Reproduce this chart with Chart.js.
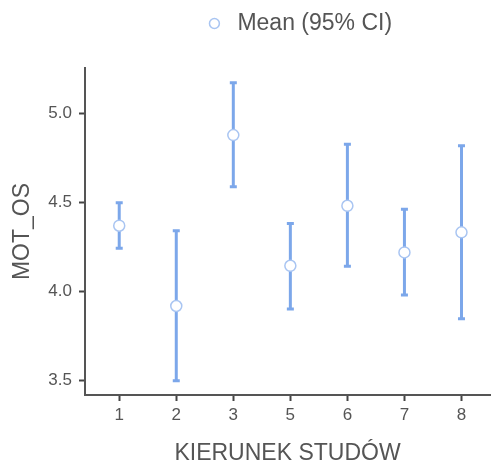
<!DOCTYPE html>
<html><head><meta charset="utf-8">
<script src="https://cdn.jsdelivr.net/npm/chart.js@4"></script>
<style>html,body{margin:0;padding:0;background:#fff}#wrap{width:491px;height:461px}</style>
</head><body><div id="wrap"><canvas id="c" width="491" height="461"></canvas></div>
<script>
const categories = ["1","2","3","5","6","7","8"];
const means = [4.367, 3.916, 4.876, 4.142, 4.479, 4.217, 4.330];
const lower = [4.240, 3.496, 4.586, 3.899, 4.139, 3.978, 3.844];
const upper = [4.496, 4.339, 5.170, 4.380, 4.824, 4.459, 4.816];
const yTicks = [3.5, 4.0, 4.5, 5.0];

const FONT = 'Liberation Sans, Arial, sans-serif';
const lineColor = '#7ca7ea';
const errorBars = {
  id: 'errorBars',
  beforeDatasetsDraw(chart) {
    const ctx = chart.ctx, xs = chart.scales.x, ys = chart.scales.y;
    ctx.save();
    ctx.strokeStyle = lineColor;
    ctx.lineWidth = 3;
    categories.forEach((c, i) => {
      const x = xs.getPixelForValue(i);
      const yl = ys.getPixelForValue(lower[i]);
      const yu = ys.getPixelForValue(upper[i]);
      ctx.beginPath();
      ctx.moveTo(x, yl); ctx.lineTo(x, yu);
      ctx.stroke();
      ctx.beginPath();
      ctx.moveTo(x - 3.5, yl); ctx.lineTo(x + 3.5, yl);
      ctx.moveTo(x - 3.5, yu); ctx.lineTo(x + 3.5, yu);
      ctx.stroke();
    });
    ctx.restore();
  }
};
const layoutTweak = {
  id: 'layoutTweak',
  afterLayout(chart) {
    const R = 490;
    const xs = chart.scales.x;
    if (xs && chart.chartArea.right < R) {
      chart.chartArea.right = R;
      chart.chartArea.width = R - chart.chartArea.left;
      xs.right = R;
      xs.width = R - xs.left;
      xs.configure();
    }
    if (chart.legend) { chart.legend.left += 13; chart.legend.right += 13; }
  }
};

new Chart(document.getElementById('c'), {
  type: 'scatter',
  data: {
    datasets: [{
      label: 'Mean (95% CI)',
      data: means.map((m, i) => ({x: i, y: m})),
      backgroundColor: '#ffffff',
      borderColor: '#a9c5f2',
      borderWidth: 1.5,
      pointRadius: 5.5,
      pointHoverRadius: 5.5
    }]
  },
  options: {
    responsive: false,
    animation: false,
    events: [],
    layout: { padding: { left: 0, right: 1, top: 0, bottom: 0 } },
    plugins: {
      tooltip: { enabled: false },
      title: { display: true, text: '', font: { size: 10, lineHeight: 1 }, padding: { top: 8, bottom: 5 } },
      legend: {
        position: 'top',
        fullSize: false,
        weight: 3000,
        labels: {
          usePointStyle: true,
          pointStyle: 'circle',
          boxWidth: 23, boxHeight: 7,
          font: { family: FONT, size: 23 },
          color: '#555555',
          padding: 12
        }
      }
    },
    scales: {
      x: {
        type: 'linear',
        min: -0.6, max: 6.5,
        afterBuildTicks(s) { s.ticks = categories.map((c, i) => ({value: i})); },
        afterFit(s) { s.height = 66; s.paddingLeft = 0; s.paddingRight = 0; },
        ticks: {
          callback: (v) => categories[v] ?? '',
          font: { family: FONT, size: 17 },
          color: '#555555', padding: 4, maxRotation: 0
        },
        grid: { drawOnChartArea: false, drawTicks: true, tickLength: 6, color: '#444444', tickWidth: 2 },
        border: { display: true, color: '#555555', width: 2 },
        title: { display: true, text: 'KIERUNEK STUDÓW', color: '#555555',
          font: { family: FONT, size: 23, lineHeight: 1 }, padding: { top: 4, bottom: -4.5 } }
      },
      y: {
        min: 3.416, max: 5.253,
        afterBuildTicks(s) { s.ticks = yTicks.map(v => ({value: v})); },
        afterFit(s) { s.width = 85; },
        ticks: {
          callback: (v) => Number(v).toFixed(1),
          font: { family: FONT, size: 17 },
          color: '#555555', padding: 7
        },
        grid: { drawOnChartArea: false, drawTicks: true, tickLength: 6, color: '#444444', tickWidth: 2 },
        border: { display: true, color: '#555555', width: 2 },
        title: { display: true, text: 'MOT_OS', color: '#555555',
          font: { family: FONT, size: 23, lineHeight: 1 }, padding: { top: 11, bottom: 4 } }
      }
    }
  },
  plugins: [errorBars, layoutTweak]
});
</script></body></html>
